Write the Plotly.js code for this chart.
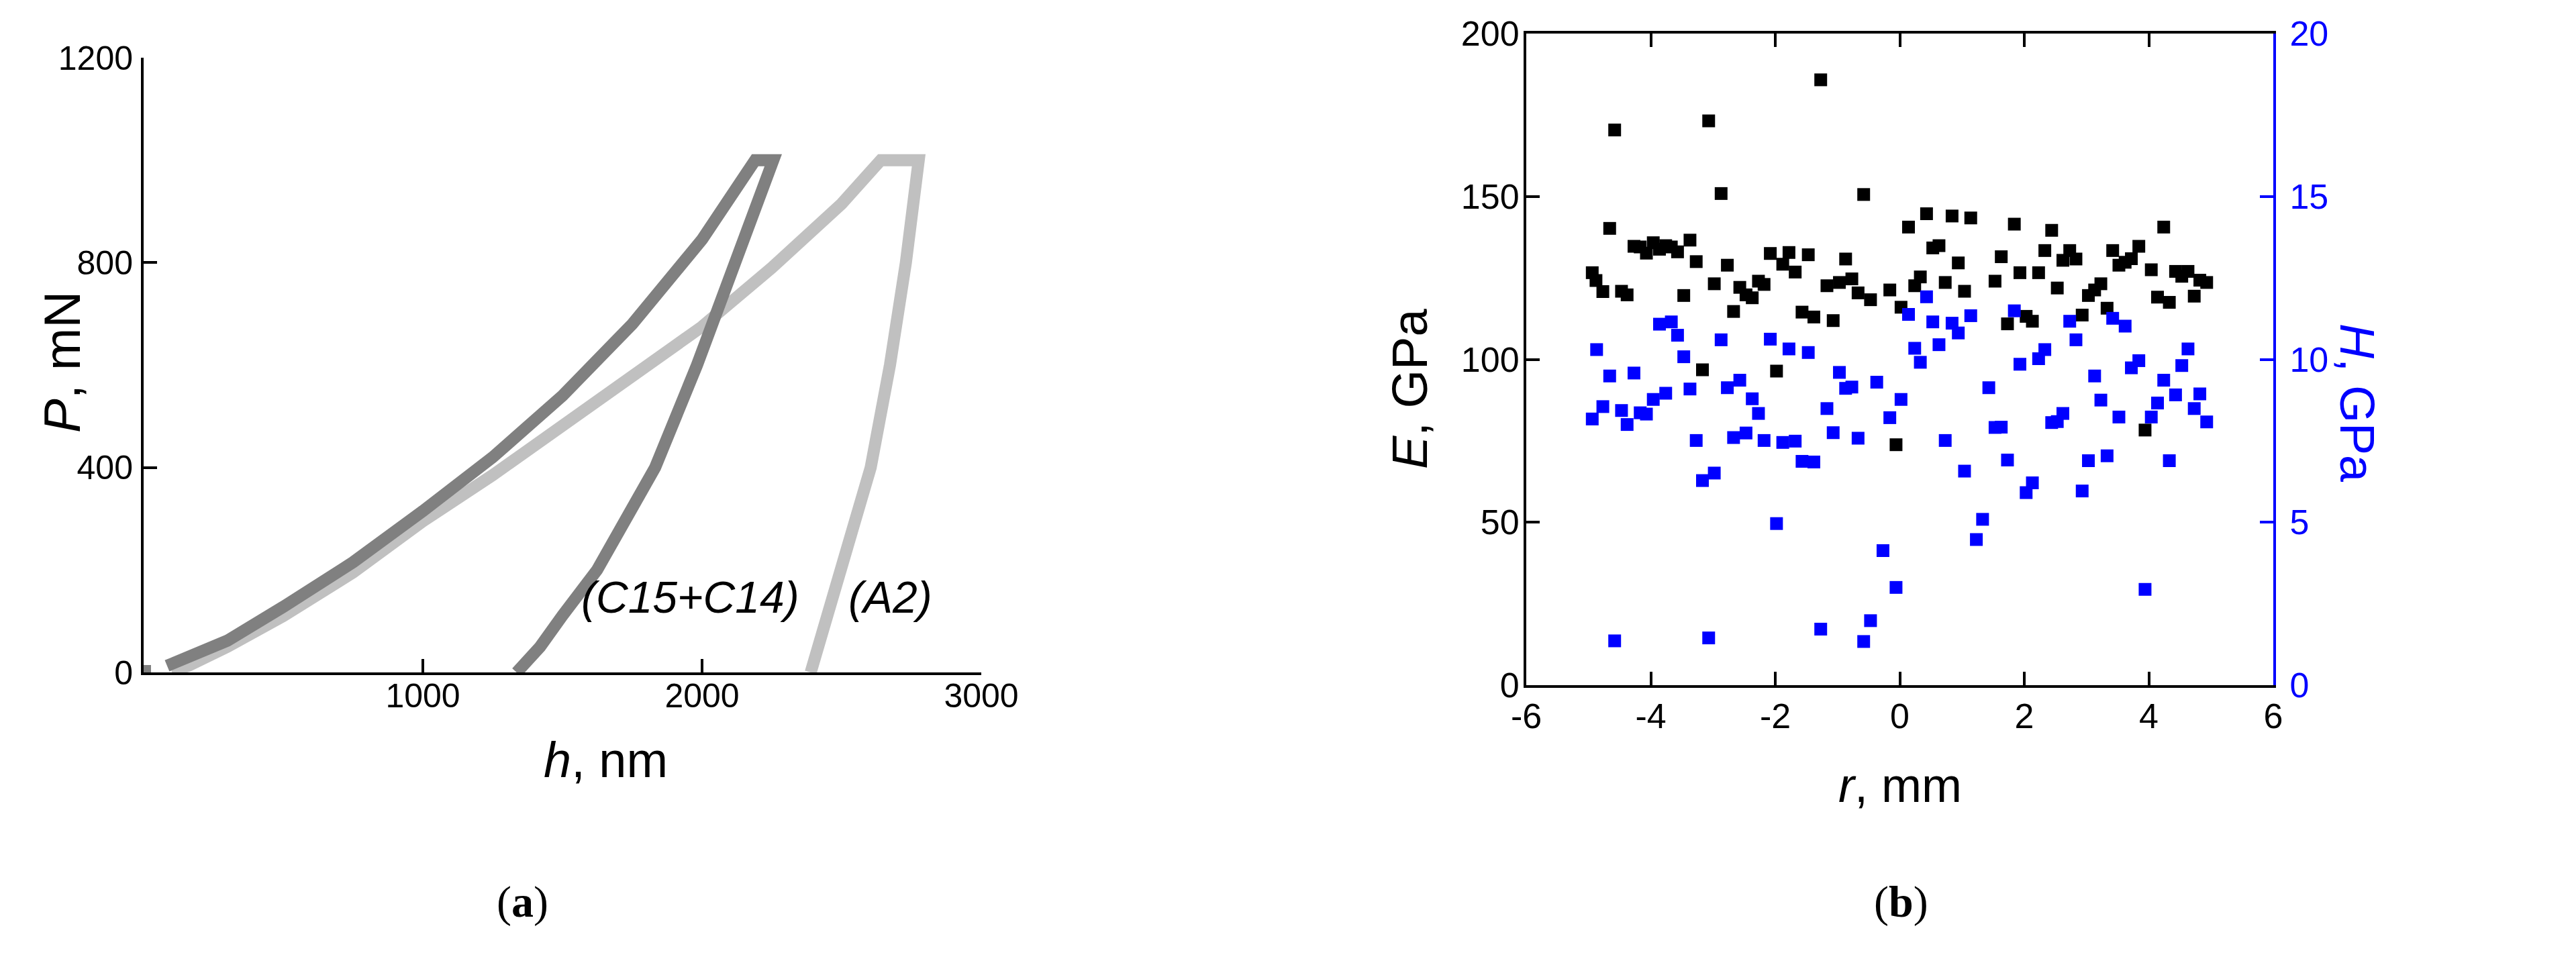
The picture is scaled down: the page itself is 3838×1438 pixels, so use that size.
<!DOCTYPE html>
<html>
<head>
<meta charset="utf-8">
<script src="https://cdn.plot.ly/plotly-3.0.1.min.js"></script>
<style>html,body{margin:0;padding:0;background:#fff;}</style>
</head>
<body>
<div id="chart" style="width:3838px;height:1438px;"></div>
<script>
// ---- Panel (a): load-displacement curves ----
const darkH = [84, 132, 178, 300, 500, 750, 1000, 1250, 1500, 1750, 2000, 2190, 2255, 2120, 1982, 1832, 1624, 1500, 1420, 1336];
const darkP = [13, 24, 34, 62, 128, 215, 315, 420, 540, 680, 845, 1000, 1000, 800, 600, 400, 200, 111, 50, 0];
const originH = [0];
const originP = [0];
const lightH = [100, 160, 300, 500, 750, 1000, 1250, 1500, 1750, 2000, 2250, 2500, 2640, 2776, 2730, 2673, 2604, 2500, 2442, 2389];
const lightP = [3, 13, 50, 110, 195, 295, 385, 480, 575, 675, 790, 915, 1000, 1000, 800, 600, 400, 200, 100, 0];
const hTicks = [1000, 2000, 3000];
const pTicks = [0, 400, 800, 1200];

// ---- Panel (b): E and H vs r ----
const rE = [-4.94,-4.88,-4.77,-4.66,-4.58,-4.47,-4.38,-4.27,-4.17,-4.07,-3.96,-3.86,-3.76,-3.67,-3.57,-3.47,-3.37,-3.27,-3.17,-3.07,-2.98,-2.87,-2.77,-2.67,-2.57,-2.47,-2.37,-2.27,-2.18,-2.08,-1.98,-1.88,-1.78,-1.68,-1.57,-1.47,-1.38,-1.27,-1.17,-1.07,-0.97,-0.87,-0.77,-0.67,-0.58,-0.47,-0.16,-0.06,0.02,0.14,0.24,0.33,0.43,0.53,0.63,0.73,0.84,0.94,1.04,1.14,1.53,1.63,1.73,1.84,1.93,2.03,2.13,2.23,2.33,2.44,2.53,2.62,2.73,2.83,2.93,3.03,3.13,3.23,3.33,3.42,3.52,3.62,3.72,3.84,3.94,4.04,4.14,4.24,4.33,4.43,4.53,4.63,4.73,4.82,4.93];
const E = [126.6,124.2,120.8,140.2,170.4,120.9,119.8,134.7,134.5,132.6,135.8,133.8,134.9,134.5,133.0,119.6,136.6,130.0,96.8,173.2,123.2,150.9,128.9,114.7,122.1,119.8,118.9,124.0,123.0,132.5,96.4,129.2,132.8,126.8,114.5,132.1,113.0,185.8,122.6,111.9,123.6,130.8,124.7,120.4,150.6,118.3,121.3,73.8,116.0,140.6,122.6,125.3,144.7,134.2,134.9,123.6,144.0,129.6,120.9,143.4,124.0,131.5,110.9,141.5,126.6,113.2,111.7,126.6,133.4,139.6,121.9,130.4,133.4,130.8,113.6,119.6,121.3,123.2,115.7,133.4,128.9,129.8,130.9,134.7,78.3,127.5,119.1,140.6,117.5,127.0,125.5,127.0,119.4,124.3,123.6];
const rH = [-4.94,-4.87,-4.77,-4.66,-4.58,-4.47,-4.38,-4.27,-4.17,-4.07,-3.96,-3.86,-3.76,-3.67,-3.57,-3.47,-3.37,-3.27,-3.17,-3.07,-2.98,-2.87,-2.77,-2.67,-2.57,-2.47,-2.37,-2.27,-2.18,-2.08,-1.98,-1.88,-1.78,-1.68,-1.57,-1.47,-1.38,-1.27,-1.17,-1.07,-0.97,-0.87,-0.77,-0.67,-0.58,-0.47,-0.37,-0.27,-0.16,-0.06,0.02,0.14,0.24,0.33,0.43,0.53,0.63,0.73,0.84,0.94,1.04,1.14,1.23,1.33,1.43,1.53,1.63,1.73,1.84,1.93,2.03,2.13,2.23,2.33,2.44,2.53,2.62,2.73,2.83,2.93,3.03,3.13,3.23,3.33,3.42,3.52,3.62,3.72,3.84,3.94,4.04,4.14,4.24,4.33,4.43,4.53,4.63,4.73,4.82,4.93];
const H = [8.17,10.30,8.55,9.49,1.36,8.43,8.00,9.58,8.36,8.32,8.77,11.08,8.96,11.15,10.74,10.08,9.09,7.51,6.28,1.45,6.51,10.60,9.13,7.60,9.36,7.74,8.79,8.34,7.51,10.62,4.96,7.45,10.32,7.49,6.87,10.21,6.85,1.72,8.49,7.75,9.60,9.11,9.15,7.58,1.34,1.98,9.30,4.13,8.21,3.00,8.77,11.38,10.34,9.91,11.92,11.15,10.45,7.51,11.11,10.81,6.57,11.34,4.47,5.09,9.13,7.91,7.92,6.91,11.49,9.85,5.91,6.21,10.02,10.30,8.06,8.09,8.34,11.17,10.60,5.96,6.89,9.49,8.75,7.04,11.26,8.23,11.02,9.74,9.96,2.94,8.23,8.66,9.36,6.89,8.91,9.81,10.32,8.49,8.94,8.08];
const rTicks = [-6, -4, -2, 0, 2, 4, 6];
const eTicks = [0, 50, 100, 150, 200];
const hardTicks = [0, 5, 10, 15, 20];

const FONT = 'Liberation Sans, Arial, sans-serif';
const SERIF = 'Liberation Serif, Times New Roman, serif';
const W = 3838, HGT = 1438;
const px = v => v / W;
const py = v => 1 - v / HGT;

const traces = [
  {x: lightH, y: lightP, xaxis: 'x', yaxis: 'y', mode: 'lines', line: {color: '#c0c0c0', width: 18}, showlegend: false, hoverinfo: 'skip'},
  {x: darkH, y: darkP, xaxis: 'x', yaxis: 'y', mode: 'lines', line: {color: '#808080', width: 18}, showlegend: false, hoverinfo: 'skip'},
  {x: originH, y: originP, xaxis: 'x', yaxis: 'y', mode: 'markers', marker: {symbol: 'square', size: 22, color: '#808080'}, cliponaxis: true, showlegend: false},
  {x: rE, y: E, xaxis: 'x2', yaxis: 'y2', mode: 'markers', marker: {symbol: 'square', size: 19, color: '#000000', line: {width: 0}}, showlegend: false},
  {x: rH, y: H, xaxis: 'x2', yaxis: 'y3', mode: 'markers', marker: {symbol: 'square', size: 19, color: '#0000ff', line: {width: 0}}, showlegend: false}
];

const axBase = {
  showgrid: false, zeroline: false, showline: true, linewidth: 4, linecolor: '#000',
  ticks: 'inside', ticklen: 20, tickwidth: 4, tickcolor: '#000', fixedrange: true
};

const layout = {
  width: W, height: HGT,
  margin: {l: 0, r: 0, t: 0, b: 0},
  paper_bgcolor: '#fff', plot_bgcolor: 'rgba(0,0,0,0)',
  font: {family: FONT, color: '#000'},
  showlegend: false,
  xaxis: Object.assign({}, axBase, {
    domain: [px(214), px(1462)], range: [0, 3000], anchor: 'y',
    tickmode: 'array', tickvals: hTicks, ticktext: hTicks.map(String),
    tickfont: {size: 50, family: FONT, color: '#000'}, ticklabelstandoff: -12
  }),
  yaxis: Object.assign({}, axBase, {
    domain: [py(1002), py(86)], range: [0, 1200], anchor: 'x',
    tickmode: 'array', tickvals: pTicks, ticktext: pTicks.map(String),
    tickfont: {size: 50, family: FONT, color: '#000'}, ticklabelstandoff: 2
  }),
  xaxis2: Object.assign({}, axBase, {
    domain: [px(2274), px(3387)], range: [-6, 6], anchor: 'y2', mirror: 'ticks',
    tickmode: 'array', tickvals: rTicks, ticktext: rTicks.map(String),
    tickfont: {size: 52, family: FONT, color: '#000'}, ticklabelstandoff: -2
  }),
  yaxis2: Object.assign({}, axBase, {
    domain: [py(1021), py(50)], range: [0, 200], anchor: 'x2',
    tickmode: 'array', tickvals: eTicks, ticktext: eTicks.map(String),
    tickfont: {size: 52, family: FONT, color: '#000'}, ticklabelstandoff: -4
  }),
  yaxis3: Object.assign({}, axBase, {
    overlaying: 'y2', side: 'right', anchor: 'x2', range: [0, 20],
    linecolor: '#0000ff', tickcolor: '#0000ff',
    tickmode: 'array', tickvals: hardTicks, ticktext: hardTicks.map(String),
    tickfont: {size: 52, family: FONT, color: '#0000ff'}, ticklabelstandoff: 10
  }),
  annotations: [
    {xref: 'paper', yref: 'paper', x: px(92), y: py(540), text: '<i>P</i>, mN', textangle: -90, showarrow: false, font: {size: 76, family: FONT, color: '#000'}, xanchor: 'center', yanchor: 'middle'},
    {xref: 'paper', yref: 'paper', x: px(902), y: py(1132), text: '<i>h</i>, nm', showarrow: false, font: {size: 74, family: FONT, color: '#000'}, xanchor: 'center', yanchor: 'middle'},
    {xref: 'x', yref: 'y', x: 1958, y: 147, text: '<i>(C15+C14)</i>', showarrow: false, font: {size: 66, family: FONT, color: '#000'}, xanchor: 'center', yanchor: 'middle'},
    {xref: 'x', yref: 'y', x: 2675, y: 147, text: '<i>(A2)</i>', showarrow: false, font: {size: 66, family: FONT, color: '#000'}, xanchor: 'center', yanchor: 'middle'},
    {xref: 'paper', yref: 'paper', x: px(2100), y: py(580), text: '<i>E</i>, GPa', textangle: -90, showarrow: false, font: {size: 74, family: FONT, color: '#000'}, xanchor: 'center', yanchor: 'middle'},
    {xref: 'paper', yref: 'paper', x: px(3512), y: py(600), text: '<i>H</i>, GPa', textangle: 90, showarrow: false, font: {size: 72, family: FONT, color: '#0000ff'}, xanchor: 'center', yanchor: 'middle'},
    {xref: 'paper', yref: 'paper', x: px(2831), y: py(1170), text: '<i>r</i>, mm', showarrow: false, font: {size: 72, family: FONT, color: '#000'}, xanchor: 'center', yanchor: 'middle'},
    {xref: 'paper', yref: 'paper', x: px(778), y: py(1344), text: '(<b>a</b>)', showarrow: false, font: {size: 66, family: SERIF, color: '#000'}, xanchor: 'center', yanchor: 'middle'},
    {xref: 'paper', yref: 'paper', x: px(2832), y: py(1344), text: '(<b>b</b>)', showarrow: false, font: {size: 66, family: SERIF, color: '#000'}, xanchor: 'center', yanchor: 'middle'}
  ]
};

Plotly.newPlot('chart', traces, layout, {staticPlot: true, displayModeBar: false});
</script>
</body>
</html>
